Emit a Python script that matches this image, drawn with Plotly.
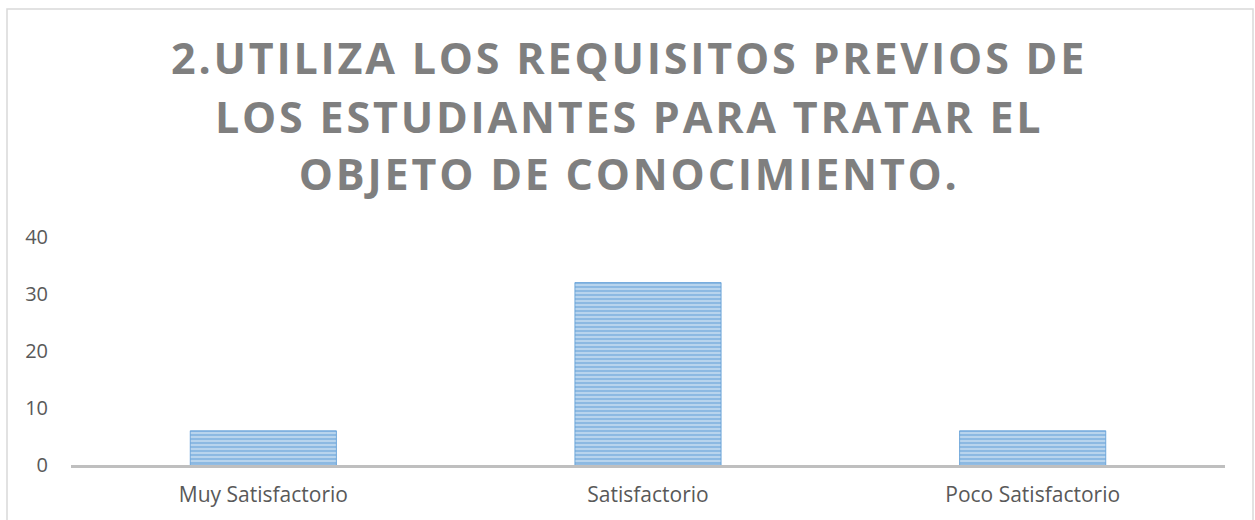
import plotly.graph_objects as go

categories = ["Muy Satisfactorio", "Satisfactorio", "Poco Satisfactorio"]
values = [6, 32, 6]
title_lines = ["2.UTILIZA LOS REQUISITOS PREVIOS DE",
               "LOS ESTUDIANTES PARA TRATAR EL",
               "OBJETO DE CONOCIMIENTO."]
y_ticks = [0, 10, 20, 30, 40]

W, H = 1255, 520
L, R, T, B = 71, 30, 237, 55
pw, ph = W - L - R, H - T - B

def px_x(p):
    return (p - L) / pw

def px_y(p):
    return (H - B - p) / ph

fig = go.Figure()
fig.add_trace(go.Bar(
    x=categories, y=values,
    marker=dict(
        color="#BDD7EE",
        line=dict(color="#5B9BD5", width=0.8),
        pattern=dict(shape="-", fgcolor="#5B9BD5", bgcolor="#BDD7EE",
                     size=4, solidity=0.55, fillmode="overlay"),
    ),
    hoverinfo="skip",
))

title_centers = [58, 117, 174]
annotations = []
for line, yc in zip(title_lines, title_centers):
    annotations.append(dict(
        text="<b>" + line + "</b>", x=px_x(628.5), y=px_y(yc),
        xref="paper", yref="paper", xanchor="center", yanchor="middle",
        showarrow=False,
        font=dict(family="Open Sans", size=43, color="#7F7F7F"),
    ))

fig.update_layout(
    width=W, height=H,
    margin=dict(l=L, r=R, t=T, b=B, pad=0),
    paper_bgcolor="white", plot_bgcolor="white",
    bargap=0.62,
    showlegend=False,
    annotations=annotations,
    font=dict(family="Open Sans", size=20, color="#595959"),
    xaxis=dict(showgrid=False, showline=True, linecolor="#BFBFBF", linewidth=2.5,
               ticks="", tickfont=dict(size=21, color="#595959"), ticklabelstandoff=9),
    yaxis=dict(range=[0, 40], tickvals=y_ticks, showgrid=False, zeroline=False,
               showline=False, ticks="", tickfont=dict(size=20, color="#595959"),
               ticklabelstandoff=22),
    shapes=[dict(type="rect", xref="paper", yref="paper",
                 x0=px_x(7), x1=px_x(1253), y0=px_y(530), y1=px_y(9),
                 line=dict(color="#D9D9D9", width=1.5), fillcolor="rgba(0,0,0,0)",
                 layer="below")],
)

post = """
document.body.style.margin = '0';
document.querySelectorAll('.annotation-text').forEach(function(t){
  t.style.letterSpacing = '2.8px';
});
"""

fig.write_html("out.html", post_script=post, config={"displayModeBar": False})
